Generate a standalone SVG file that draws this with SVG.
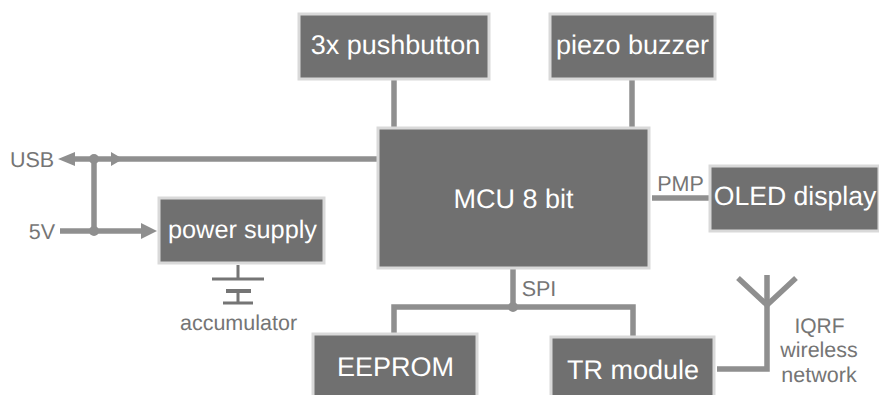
<svg xmlns="http://www.w3.org/2000/svg" width="879" height="395" viewBox="0 0 879 395">
<style>
text{font-family:"Liberation Sans",Arial,sans-serif;text-anchor:middle;text-rendering:geometricPrecision}
.n{fill:#707070;stroke:#d9d9d9;stroke-width:3}
.w{fill:#fff;font-size:27px}
.g{fill:#757575;font-size:21.5px}
.c{stroke:#8f8f8f;stroke-width:5.5;fill:none}
.t{stroke:#757575;stroke-width:3;fill:none}
.a{fill:#8f8f8f}
</style>
<rect width="879" height="395" fill="#fff"/>
<g id="connectors">
<line class="c" x1="394" y1="80" x2="394" y2="128"/>
<line class="c" x1="632" y1="80" x2="632" y2="128"/>
<line class="c" x1="652" y1="198" x2="710" y2="198"/>
<line class="c" x1="513" y1="268" x2="513" y2="307"/>
<path class="c" d="M394 333V307H633V336"/>
<line class="c" x1="70" y1="159" x2="378" y2="159"/>
<line class="c" x1="94" y1="159" x2="94" y2="231"/>
<line class="c" x1="60" y1="231" x2="142" y2="231"/>
<path class="c" d="M717 369H767V275"/>
<path class="c" d="M738 278L767 305L796 278"/>
<path class="a" d="M58 159L75 152V166ZM111 152L123 159L111 166ZM141 223L157 231L141 239Z"/>
<circle class="a" cx="94" cy="159" r="5"/><circle class="a" cx="94" cy="231" r="5"/><circle class="a" cx="513" cy="307" r="5"/>
<path class="t" d="M238 265V279M212 279H264M223 303H253M238 291V303"/>
<path d="M226 291H251" stroke="#757575" stroke-width="4"/>
</g>
<g id="pushbutton"><rect class="n" x="299" y="14" width="190" height="65"/><text class="w" x="395.500" y="53.500">3x pushbutton</text></g>
<g id="buzzer"><rect class="n" x="550" y="14" width="165" height="65"/><text class="w" x="632.500" y="53.500">piezo buzzer</text></g>
<g id="mcu"><rect class="n" x="378" y="128" width="271" height="140"/><text class="w" x="513.500" y="207.500">MCU 8 bit</text></g>
<g id="oled"><rect class="n" x="710" y="166" width="169" height="65"/><text class="w" x="795" y="205" style="font-size:26.600px">OLED display</text></g>
<g id="power"><rect class="n" x="159" y="198" width="165" height="65"/><text class="w" x="242.500" y="238" style="font-size:25.300px">power supply</text></g>
<g id="eeprom"><rect class="n" x="313" y="334" width="164" height="65"/><text class="w" x="395.500" y="376">EEPROM</text></g>
<g id="tr"><rect class="n" x="551" y="337" width="163" height="65"/><text class="w" x="633" y="379">TR module</text></g>
<g id="labels">
<text class="g" x="32" y="167">USB</text>
<text class="g" x="42" y="239">5V</text>
<text class="g" x="238.500" y="330">accumulator</text>
<text class="g" x="680.500" y="191">PMP</text>
<text class="g" x="539" y="296">SPI</text>
<text class="g" x="819.500" y="333" style="font-size:21px">IQRF</text>
<text class="g" x="819" y="357">wireless</text>
<text class="g" x="819" y="382">network</text>
</g>
</svg>
